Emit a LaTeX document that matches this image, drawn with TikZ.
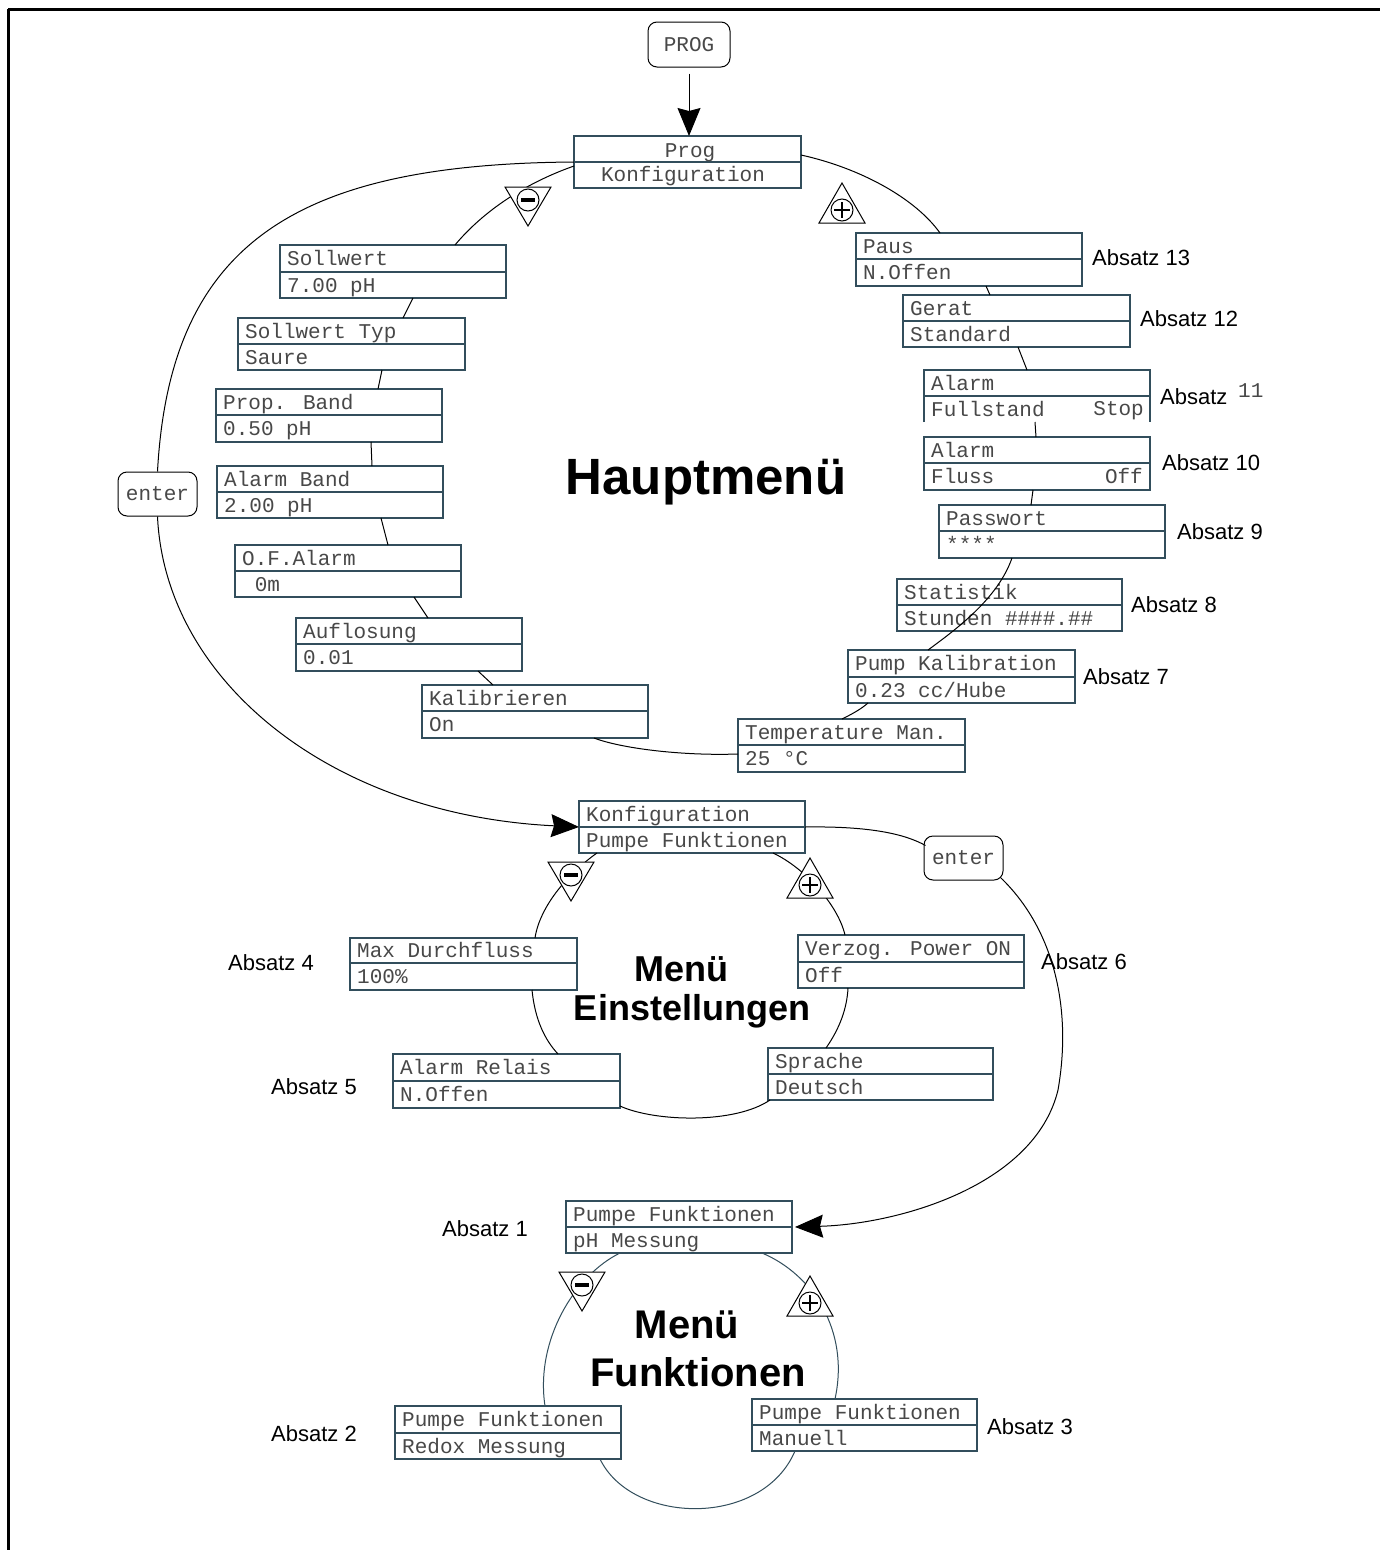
\documentclass[tikz,border=0pt]{standalone}
\usepackage{fontspec}
\setmainfont{Liberation Sans}
\newfontfamily\monof{Liberation Mono}
\usetikzlibrary{arrows.meta,calc}
\definecolor{boxc}{RGB}{50,78,92}
\definecolor{txtc}{RGB}{72,72,72}
\tikzset{
  dbox/.style={draw=boxc, line width=1.6pt, rectangle, inner sep=0pt, outer sep=0pt},
  boxline/.style={draw=boxc, line width=1.6pt},
  mono/.style={font=\monof\fontsize{21}{21}\selectfont, text=txtc, inner sep=0pt, anchor=base west},
  absatz/.style={font=\fontsize{22}{22}\selectfont, inner sep=0pt, anchor=base west},
  title/.style={font=\bfseries\fontsize{#1}{#1}\selectfont, inner sep=0pt},
  conn/.style={line width=1pt, black},
  connb/.style={line width=1pt, boxc},
  arr/.style={-{Stealth[length=28pt,width=23pt,inset=3pt]}, line width=1pt},
  keyb/.style={draw, rounded corners=9pt, line width=1pt, inner sep=0pt, font=\monof\fontsize{21}{21}\selectfont, text=txtc},
  minustri/.pic={
    \draw[fill=white, line width=1pt] (-23,-18) -- (23,-18) -- (0,21) -- cycle;
    \draw[line width=1pt] (0,-5) circle (11pt);
    \draw[line width=4pt] (-7,-5) -- (7,-5);
  },
  plustri/.pic={
    \draw[fill=white, line width=1pt] (-23,18) -- (23,18) -- (0,-22) -- cycle;
    \draw[line width=1pt] (0,5) circle (11pt);
    \draw[line width=1.2pt] (-8,5) -- (8,5) (0,-3) -- (0,13);
  },
}
\newcommand\hashes{\char"23\char"23\char"23\char"23.\char"23\char"23}
% [opt] name x1 y1 x2 y2 ymid t1 t2
\newcommand\mbx[9][]{%
  \node[dbox, #1, anchor=north west, minimum width={(#5-#3)*1pt}, minimum height={(#6-#4)*1pt}] (#2) at (#3,#4) {};
  \draw[boxline] (#3,#7) -- (#5,#7);
  \node[mono] (#2-a) at ({#3+7},{(#4+#7)/2+7}) {#8};
  \node[mono] (#2-b) at ({#3+7},{(#7+#6)/2+7}) {#9};
}
\begin{document}
\begin{tikzpicture}[x=1pt,y=-1pt]
\useasboundingbox (0,0) rectangle (1380,1550);
\fill[white] (0,0) rectangle (1380,1550);
% frame
\draw[line width=3pt] (8,9) -- (1380,9);
\draw[line width=3pt] (8,9) -- (8,1550);

% keys
\node[keyb, minimum width=82pt, minimum height=45pt] (progkey) at (689,44.5) {PROG};
\node[keyb, minimum width=79pt, minimum height=44pt] (enterL) at (157.5,494) {enter};
\node[keyb, minimum width=79pt, minimum height=44pt] (enterR) at (963.5,858) {enter};

% main menu boxes
\node[dbox, anchor=north west, minimum width=227pt, minimum height=52pt] (prog) at (574,136) {};
\draw[boxline] (574,162) -- (801,162);
\node[mono, anchor=base] (prog-a) at (690,157) {Prog};
\node[mono, anchor=base] (prog-b) at (683,181) {Konfiguration};

\mbx{soll}{280}{245}{506}{298}{272}{Sollwert}{7.00 pH}
\mbx{styp}{238}{318}{465}{370}{344}{Sollwert Typ}{Saure}
\mbx{prop}{216}{389}{442}{442}{415}{Prop. Band}{0.50 pH}
\mbx{aband}{217}{466}{443}{518}{492}{Alarm Band}{2.00 pH}
\mbx{ofal}{235}{545}{461}{597}{571}{O.F.Alarm}{\ 0m}
\mbx{aufl}{296}{618}{522}{671}{644}{Auflosung}{0.01}
\mbx{kali}{422}{685}{648}{738}{711}{Kalibrieren}{On}
\mbx{temp}{738}{719}{965}{772}{745}{Temperature Man.}{25 °C}
\mbx{pause}{856}{233}{1082}{286}{259}{Paus}{N.Offen}
\mbx{gerat}{903}{295}{1130}{347}{321}{Gerat}{Standard}
\mbx[draw=none]{afull}{924}{370}{1150}{422}{396}{Alarm}{Fullstand}
\draw[boxline] (afull.south west) -- (afull.north west) -- (afull.north east) -- (afull.south east);
\node[mono, anchor=base east] (afull-c) at (1144,415) {Stop};
\mbx{afluss}{924}{437}{1150}{490}{463}{Alarm}{Fluss}
\node[mono, anchor=base east] (afluss-c) at (1143,483) {Off};
\mbx{pass}{939}{505}{1165}{558}{531}{Passwort}{****}
\mbx{stat}{897}{579}{1122}{631}{605}{Statistik}{Stunden \hashes}
\mbx{pumpk}{848}{650}{1075}{703}{677}{Pump Kalibration}{0.23 cc/Hube}

% Einstellungen boxes
\mbx{konf}{579}{801}{805}{853}{827}{Konfiguration}{Pumpe Funktionen}
\mbx{maxd}{350}{938}{577}{990}{963}{Max Durchfluss}{100\%}
\mbx{verz}{798}{935}{1024}{988}{962}{Verzog. Power ON}{Off}
\mbx{arel}{393}{1054}{620}{1108}{1081}{Alarm Relais}{N.Offen}
\mbx{spr}{768}{1048}{993}{1100}{1074}{Sprache}{Deutsch}

% Funktionen boxes
\mbx{pf1}{566}{1201}{792}{1253}{1227}{Pumpe Funktionen}{pH Messung}
\mbx{redox}{395}{1406}{621}{1459}{1433}{Pumpe Funktionen}{Redox Messung}
\mbx{manu}{752}{1399}{977}{1451}{1425}{Pumpe Funktionen}{Manuell}

% ---------- connectors: main menu ----------
\draw[arr] ([yshift=-6pt]progkey.south) -- (progkey.south |- prog.north);
\draw[conn] ($(prog.south west)+(0,-22)$) .. controls (520,185) and (480,215) .. ($(soll.north west)+(175,0)$);
\draw[conn] ($(prog.north east)+(0,19)$) .. controls (860,168) and (915,198) .. ($(pause.north west)+(84,0)$);
\draw[conn] ($(pause.south west)+(130,0)$) -- ($(gerat.north west)+(87,0)$);
\draw[conn] ($(gerat.south west)+(115,0)$) -- ($(afull.north west)+(103,0)$);
\draw[conn] ($(afull.south west)+(111,0)$) -- ($(afluss.north west)+(112,0)$);
\draw[conn] ($(afluss.south west)+(109,0)$) -- ($(pass.north west)+(92,0)$);
\draw[conn] ($(pass.south west)+(73,0)$) .. controls (998,598) and (958,628) .. ($(pumpk.north west)+(80,0)$);
\draw[conn] ($(pumpk.south west)+(20,0)$) .. controls (860,710) and (850,715) .. ($(temp.north west)+(104,0)$);
\draw[conn] ($(temp.south west)+(0,-18)$) .. controls (680,756) and (620,748) .. ($(kali.south west)+(172,0)$);
\draw[conn] ($(kali.north west)+(71,0)$) -- ($(aufl.south west)+(182,0)$);
\draw[conn] ($(aufl.north west)+(132,0)$) -- ($(ofal.south west)+(179,0)$);
\draw[conn] ($(ofal.north west)+(153,0)$) -- ($(aband.south west)+(164,0)$);
\draw[conn] ($(aband.north west)+(155,0)$) -- ($(prop.south west)+(155,0)$);
\draw[conn] ($(prop.north west)+(162,0)$) -- ($(styp.south west)+(144,0)$);
\draw[conn] ($(styp.north west)+(165,0)$) -- ($(soll.south west)+(133,0)$);

% big loops
\draw[conn] (prog.west) .. controls (300,164) and (170,240) .. (enterL.north);
\draw[conn, arr] (enterL.south) .. controls (165,680) and (330,815) .. ($(konf.south west)+(0,-26)$);
\draw[conn] ($(konf.north east)+(0,26)$) .. controls (870,826) and (905,834) .. ($(enterR.north west)+(2,10)$);
\draw[conn, arr] ($(enterR.south east)+(-3,-3)$) .. controls (1055,930) and (1072,1010) .. (1058,1090)
   .. controls (1035,1185) and (900,1224) .. ($(pf1.north east)+(3,26)$);

% ---------- Einstellungen circle ----------
\draw[conn] ($(konf.south west)+(18,0)$) .. controls (570,872) and (540,905) .. ($(maxd.north west)+(185,0)$);
\draw[conn] ($(maxd.south west)+(182,0)$) .. controls (535,1020) and (545,1040) .. ($(arel.north west)+(165,0)$);
\draw[conn] ($(arel.south east)+(0,-2)$) .. controls (655,1122) and (735,1124) .. ($(spr.south west)+(2,0)$);
\draw[conn] ($(spr.north west)+(58,0)$) .. controls (840,1028) and (847,1008) .. ($(verz.south west)+(50,0)$);
\draw[conn] ($(verz.north west)+(47,0)$) .. controls (838,905) and (805,868) .. ($(konf.south west)+(194,0)$);

% ---------- Funktionen circle ----------
\draw[connb] ($(pf1.south west)+(54,0)$) .. controls (575,1275) and (535,1340) .. ($(redox.north west)+(150,0)$);
\draw[connb] ($(redox.south west)+(205,0)$) .. controls (632,1525) and (762,1528) .. ($(manu.south west)+(43,0)$);
\draw[connb] ($(manu.north west)+(83,0)$) .. controls (850,1330) and (812,1274) .. ($(pf1.south west)+(196,0)$);

% triangles
\pic at (528,205) {minustri};
\pic at (842,205) {plustri};
\pic at (571,880) {minustri};
\pic at (810,880) {plustri};
\pic at (582,1290) {minustri};
\pic at (810,1298) {plustri};

% titles
\node[title=51] (t1) at (706,482) {Hauptmenü};
\node[title=36] (t2) at (681,969) {Menü};
\node[title=36] (t3) at (692,1011) {Einstellungen};
\node[title=40] (t4) at (687,1325) {Menü};
\node[title=40] (t5) at (698,1372) {Funktionen};

% Absatz labels
\node[absatz] (a13) at (1092,265) {Absatz 13};
\node[absatz] (a12) at (1140,326) {Absatz 12};
\node[absatz] (a11) at (1160,404) {Absatz};
\node[mono] (a11n) at (1238,397) {11};
\node[absatz] (a10) at (1162,470) {Absatz 10};
\node[absatz] (a9) at (1177,539) {Absatz 9};
\node[absatz] (a8) at (1131,612) {Absatz 8};
\node[absatz] (a7) at (1083,684) {Absatz 7};
\node[absatz] (a4) at (228,970) {Absatz 4};
\node[absatz] (a5) at (271,1094) {Absatz 5};
\node[absatz] (a6) at (1041,969) {Absatz 6};
\node[absatz] (a1) at (442,1236) {Absatz 1};
\node[absatz] (a2) at (271,1441) {Absatz 2};
\node[absatz] (a3) at (987,1434) {Absatz 3};
\end{tikzpicture}
\end{document}
